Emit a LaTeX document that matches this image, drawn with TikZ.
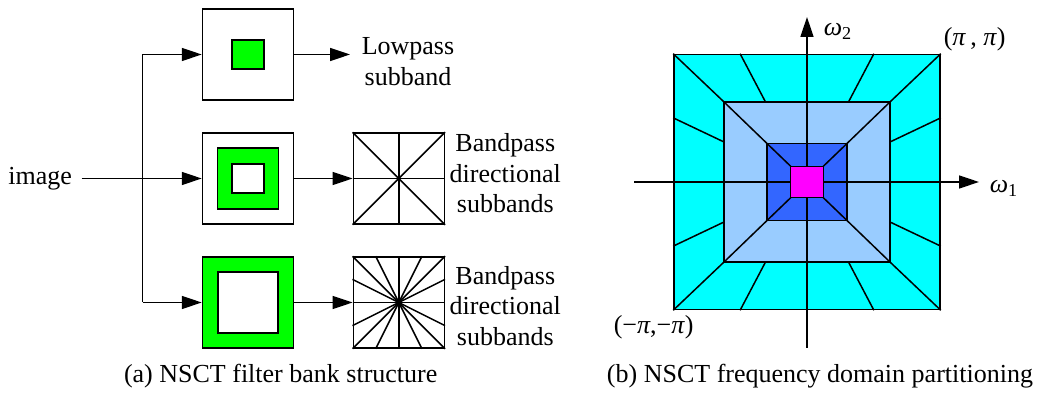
\documentclass[tikz,border=0pt]{standalone}
\usepackage{fontspec}
\setmainfont{Liberation Serif}
\usetikzlibrary{arrows.meta,positioning,calc}
\definecolor{nsct-green}{RGB}{0,255,0}
\definecolor{ring-cyan}{RGB}{0,255,255}
\definecolor{ring-light}{RGB}{153,204,255}
\definecolor{ring-dark}{RGB}{51,102,255}
\definecolor{core-mag}{RGB}{255,0,255}
\tikzset{
  tip/.style={-{Triangle[length=10pt,width=6.5pt]}},
  filterbox/.style={draw, line width=0.75pt, minimum size=45.5pt, inner sep=0pt},
  patch/.style={draw, line width=0.75pt, inner sep=0pt},
  bandtext/.style={align=center, inner sep=0pt},
}

\begin{document}
\begin{tikzpicture}[x=0.5pt, y=-0.5pt, line width=0.75pt, font=\fontsize{13}{15.25}\selectfont]
	  \useasboundingbox (0,0) rectangle (1046,394);
	  % (a) filter bank
	  \node[filterbox] (lpbox) at (248,54.5) {};
	  \node[patch, fill=nsct-green, minimum width=16pt, minimum height=14.5pt] (lpcore) at (lpbox.center) {};
	  \node[filterbox] (bpone) at (248,178.5) {};
	  \node[patch, fill=nsct-green, minimum size=30.5pt] (bponering) at (bpone.center) {};
	  \node[patch, fill=white, minimum width=16pt, minimum height=14.5pt] (bponehole) at (bpone.center) {};
	  \node[filterbox, fill=nsct-green] (bptwo) at (248,302.5) {};
	  \node[patch, fill=white, minimum width=30pt, minimum height=30.5pt] (bptwohole) at (bptwo.center) {};
	  \node[filterbox] (dfbone) at (398.8,178.5) {};
	  \node[filterbox] (dfbtwo) at (398.8,302.5) {};
	  \foreach \p/\q in {north/south, west/east, north west/south east, north east/south west}{
	    \draw (dfbone.\p) -- (dfbone.\q);
	    \draw (dfbtwo.\p) -- (dfbtwo.\q);
	  }
	  \foreach \a/\b/\c/\d in {north/north west/south/south east, north/north east/south/south west,
	                           west/north west/east/south east, west/south west/east/north east}
	    \draw ($(dfbtwo.\a)!.5!(dfbtwo.\b)$) -- ($(dfbtwo.\c)!.5!(dfbtwo.\d)$);
	  \node[anchor=base east, inner xsep=4.5pt, inner ysep=0pt] (image) at (81.7,185) {image};
	  \coordinate (split) at (142.7,178.5);
	  \draw[tip] (image.east |- bpone.west) -- (bpone.west);
	  \draw (split |- lpbox.west) -- (split |- bptwo.west);
	  \draw[tip] (split |- lpbox.west) -- (lpbox.west);
	  \draw[tip] (split |- bptwo.west) -- (bptwo.west);
	  \node[bandtext, inner xsep=5.5pt] (lowtext) at (408,61.6) {Lowpass\\subband};
	  \draw[tip] (lpbox.east) -- (lowtext.west |- lpbox.east);
	  \draw[tip] (bpone.east) -- (dfbone.west);
	  \draw[tip] (bptwo.east) -- (dfbtwo.west);
	  \node[bandtext] (bponetext) at (505.3,173.6) {Bandpass\\directional\\subbands};
	  \node[bandtext] (bptwotext) at (505.3,306) {Bandpass\\directional\\subbands};
	  \node[anchor=base] (capa) at (280.7,383) {(a) NSCT filter bank structure};
	  % (b) frequency partitioning
	  \node[patch, fill=ring-cyan, minimum width=133pt, minimum height=127.5pt] (outer) at (807,182) {};
	  \node[patch, fill=ring-light, minimum width=83pt, minimum height=80pt] (middle) at (807,182) {};
	  \node[patch, fill=ring-dark, minimum width=40pt, minimum height=38.5pt] (inner) at (807,182) {};
	  \foreach \c in {north west, north east, south west, south east}{
	    \draw (outer.\c) -- (middle.\c) -- (inner.\c) -- (807,182);
	  }
	  \foreach \a/\b in {north/north west, north/north east, south/south west, south/south east,
	                     west/north west, west/south west, east/north east, east/south east}
	    \draw ($(middle.\a)!.5!(middle.\b)$) -- ($(outer.\a)!.5!(outer.\b)$);
	  \coordinate (wone) at (979,182);
	  \coordinate (wtwo) at (807,17);
	  \draw[tip] (634,182) -- (wone);
	  \draw[tip] (807,348) -- (wtwo);
	  \node[patch, fill=core-mag, minimum width=16.5pt, minimum height=15.5pt] (core) at (807,182) {};
	  \node[anchor=base west, inner sep=0pt] (wonelabel) at (989,193) {\textit{ω}\textsubscript{1}};
	  \node[anchor=base west, inner sep=0pt] (wtwolabel) at (823,36) {\textit{ω}\textsubscript{2}};
	  \node[anchor=base west, inner sep=0pt] (pipi) at (943,46) {(\textit{π}\,, \textit{π})};
	  \node[anchor=base west, inner sep=0pt] (mpimpi) at (613,334) {(−\textit{π},−\textit{π})};
	  \node[anchor=base] (capb) at (820,383) {(b) NSCT frequency domain partitioning};
	\end{tikzpicture}
\end{document}
